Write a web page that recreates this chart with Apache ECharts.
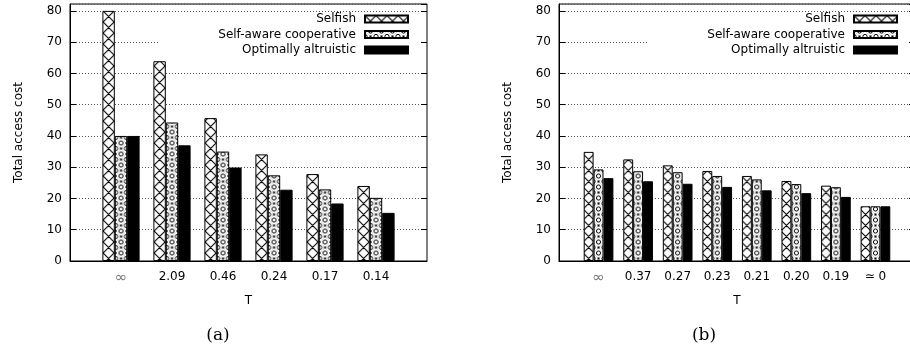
<!DOCTYPE html>
<html><head><meta charset="utf-8">
<script src="https://cdn.jsdelivr.net/npm/echarts@6/dist/echarts.min.js"></script>
<style>html,body{margin:0;padding:0;background:#fff}#c{width:910px;height:350px}</style>
</head><body><div id="c"></div>
<script>
// ---- data ----
const seriesNames = ['Selfish', 'Self-aware cooperative', 'Optimally altruistic'];
const catsA = ['\u221E', '2.09', '0.46', '0.24', '0.17', '0.14'];
const selfishA = [80, 63.9, 45.7, 34.1, 27.8, 24.0];
const coopA = [40, 44.3, 35.0, 27.4, 22.9, 20.2];
const altA = [40, 37.0, 29.9, 22.8, 18.4, 15.4];
const catsB = ['\u221E', '0.37', '0.27', '0.23', '0.21', '0.20', '0.19', '\u2243 0'];
const selfishB = [34.9, 32.5, 30.6, 28.8, 27.2, 25.6, 24.1, 17.5];
const coopB = [29.3, 28.7, 28.4, 27.2, 26.1, 24.6, 23.6, 17.5];
const altB = [26.5, 25.5, 24.7, 23.7, 22.6, 21.7, 20.5, 17.5];
const yTicks = [0, 10, 20, 30, 40, 50, 60, 70, 80];
const captions = ['(a)', '(b)'];

// ---- patterns ----
const P = 11;
function makeCross() {
  const c = document.createElement('canvas'); c.width = 22; c.height = 22;
  const g = c.getContext('2d');
  g.fillStyle = '#fff'; g.fillRect(0, 0, 22, 22);
  g.strokeStyle = '#000'; g.lineWidth = 1.1;
  g.beginPath();
  for (let k = -3; k <= 6; k++) {
    g.moveTo(k * P - 30, -30); g.lineTo(k * P + 30, 30);
    g.moveTo(k * P + 30, -30); g.lineTo(k * P - 30, 30);
  }
  g.stroke();
  return c;
}
function makeDots() {
  const c = document.createElement('canvas'); c.width = 22; c.height = 22;
  const g = c.getContext('2d');
  g.fillStyle = '#fff'; g.fillRect(0, 0, 22, 22);
  g.strokeStyle = 'rgba(0,0,0,0.25)'; g.lineWidth = 0.6;
  g.beginPath();
  for (let k = -3; k <= 6; k++) {
    g.moveTo(k * P - 30, -30); g.lineTo(k * P + 30, 30);
    g.moveTo(k * P + 30, -30); g.lineTo(k * P - 30, 30);
  }
  g.stroke();
  g.strokeStyle = '#000'; g.lineWidth = 1; g.fillStyle = '#000';
  for (let ix = -1; ix <= 4; ix++) for (let iy = -1; iy <= 4; iy++) {
    const x = ix * 5.5, y = iy * 5.5;
    if ((ix + iy) % 2 === 0) {
      g.fillRect(x - 1, y - 1, 2, 2);
    } else {
      g.save(); g.fillStyle = '#fff';
      g.beginPath(); g.arc(x, y, 2.1, 0, Math.PI * 2); g.fill(); g.stroke(); g.restore();
    }
  }
  return c;
}
const crossTile = makeCross();
const dotTile = makeDots();
function pat(tile, x) { return { image: tile, repeat: 'repeat', x: x || 0, y: 0 }; }

const FONT = 'DejaVu Sans';
const charts = [
  { cats: catsA, vals: [selfishA, coopA, altA], left: 70, width: 357, bw: 12.4 },
  { cats: catsB, vals: [selfishB, coopB, altB], left: 559, width: 356, bw: 9.9 }
];

const grids = [], xAxes = [], yAxes = [], series = [], legends = [];
charts.forEach((ch, i) => {
  grids.push({ left: ch.left, top: 4, width: ch.width, height: 257, show: true,
    outerBoundsMode: 'none', containLabel: false,
    borderColor: '#000', borderWidth: 1, backgroundColor: 'transparent' });
  xAxes.push({
    type: 'category', gridIndex: i, boundaryGap: false,
    data: ['', ...ch.cats, ''],
    axisTick: { show: false },
    axisLine: { lineStyle: { color: '#000', width: 1 } },
    splitLine: { show: false },
    axisLabel: { interval: 0, margin: 10, fontFamily: FONT, fontSize: 12, color: '#000',
      formatter: (v) => v === '\u221E' ? '{inf|\u221E}' : v,
      rich: { inf: { fontSize: 15, color: '#777', fontFamily: FONT } } },
    name: 'T', nameLocation: 'middle', nameGap: 34,
    nameTextStyle: { fontFamily: FONT, fontSize: 12, color: '#000' }
  });
  const base = { type: 'value', gridIndex: i, min: yTicks[0], max: 82.2, interval: yTicks[1] - yTicks[0] };
  yAxes.push(Object.assign({}, base, {
    position: 'left',
    axisLine: { show: true, lineStyle: { color: '#000', width: 1 } },
    axisTick: { show: true, inside: true, length: 6, lineStyle: { color: '#000' } },
    axisLabel: { margin: 8, showMaxLabel: false, fontFamily: FONT, fontSize: 12, color: '#000' },
    splitLine: { show: true, lineStyle: { color: '#555', width: 1, type: [1, 2] } },
    name: 'Total access cost', nameLocation: 'middle', nameGap: 45,
    nameTextStyle: { fontFamily: FONT, fontSize: 12, color: '#000' }
  }));
  yAxes.push(Object.assign({}, base, {
    position: 'right',
    axisLine: { show: false },
    axisTick: { show: true, inside: true, length: 6, lineStyle: { color: '#000' } },
    axisLabel: { show: false },
    splitLine: { show: false }
  }));
  ch.vals.forEach((vals, k) => {
    const color = k === 0 ? pat(crossTile) : k === 1 ? pat(dotTile) : '#000';
    series.push({
      type: 'bar', name: seriesNames[k], xAxisIndex: i, yAxisIndex: 2 * i,
      data: ['-', ...vals, '-'], barWidth: ch.bw, barGap: '0%',
      itemStyle: { color: color, borderColor: '#000', borderWidth: 1 },
      emphasis: { disabled: true }, animation: false
    });
  });
  legends.push({
    data: seriesNames, orient: 'vertical', align: 'right', icon: 'rect',
    right: i === 0 ? 501 : 12, top: 13, padding: 0,
    itemWidth: 43, itemHeight: 7, itemGap: 3.5, selectedMode: false,
    textStyle: { fontFamily: FONT, fontSize: 12, lineHeight: 12, color: '#000', padding: [0, 4, 0, 0] }
  });
});

const graphics = [
  { type: 'rect', z: 3, shape: { x: 160, y: 14, width: 261, height: 38 }, style: { fill: '#fff' } },
  { type: 'rect', z: 3, shape: { x: 648, y: 14, width: 260, height: 38 }, style: { fill: '#fff' } },
  { type: 'text', z: 3, x: 218, y: 336, style: { text: captions[0], fontFamily: 'DejaVu Serif', fontSize: 17, fill: '#000', align: 'center', verticalAlign: 'middle' } },
  { type: 'text', z: 3, x: 704, y: 336, style: { text: captions[1], fontFamily: 'DejaVu Serif', fontSize: 17, fill: '#000', align: 'center', verticalAlign: 'middle' } }
];

const chart = echarts.init(document.getElementById('c'), null, { renderer: 'canvas' });
chart.setOption({
  animation: false, backgroundColor: '#fff',
  grid: grids, xAxis: xAxes, yAxis: yAxes, series: series, legend: legends, graphic: graphics
});

// align pattern tiles to each bar's centre
const newSeries = [];
charts.forEach((ch, i) => {
  ch.vals.forEach((vals, k) => {
    const data = ['-'];
    vals.forEach((v, j) => {
      const cx = chart.convertToPixel({ xAxisIndex: i }, j + 1) + (k - 1) * ch.bw;
      const item = { value: v };
      if (k === 0) item.itemStyle = { color: pat(crossTile, cx - 5.5) };
      else if (k === 1) item.itemStyle = { color: pat(dotTile, cx - 5.5) };
      data.push(item);
    });
    data.push('-');
    newSeries.push({ data: data });
  });
});
chart.setOption({ series: newSeries });
</script>
</body></html>
